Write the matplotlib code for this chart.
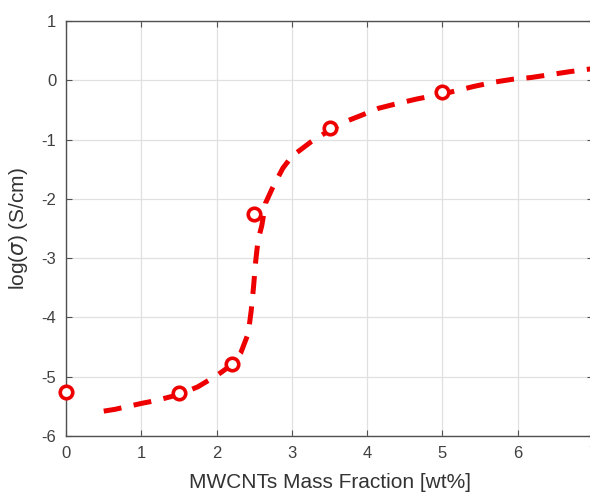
import numpy as np
import matplotlib.pyplot as plt

plt.rcParams['font.family'] = ['Liberation Sans', 'DejaVu Sans']
plt.rcParams['axes.unicode_minus'] = False

# measured points
mass_frac = [0.0, 1.5, 2.2, 2.5, 3.5, 5.0]
log_sigma = [-5.25, -5.27, -4.78, -2.25, -0.8, -0.2]

# fitted curve
fit_x = [0.5, 0.65, 1.0, 1.2, 1.5, 1.75, 2.0, 2.2, 2.32, 2.42, 2.46, 2.49, 2.52,
         2.55, 2.6, 2.65, 2.74, 2.88, 3.0, 3.25, 3.5, 3.7, 3.92, 4.15, 4.4, 4.67,
         5.0, 5.42, 5.68, 5.93, 6.18, 6.44, 6.7, 7.0]
fit_y = [-5.58, -5.55, -5.45, -5.4, -5.3, -5.17, -4.98, -4.8, -4.6, -4.27, -3.88,
         -3.49, -3.04, -2.7, -2.45, -2.07, -1.82, -1.48, -1.28, -1.04, -0.84, -0.7,
         -0.59, -0.47, -0.39, -0.31, -0.23, -0.1, -0.03, 0.02, 0.05, 0.1, 0.15, 0.2]

xticks = [0, 1, 2, 3, 4, 5, 6, 7]
yticks = [-6, -5, -4, -3, -2, -1, 0, 1]

fig = plt.figure(figsize=(5.9, 4.93), dpi=100)
ax = fig.add_axes([0.112, 0.1156, 0.893, 0.8414])

ax.plot(fit_x, fit_y, color='#ee0000', lw=3.6, ls=(0, (3.6, 2.5)), zorder=3)
ax.plot(mass_frac, log_sigma, ls='none', marker='o', ms=9, mfc='white',
        mec='#ee0000', mew=2.6, zorder=4, clip_on=False)

ax.set_xlim(0, 7)
ax.set_ylim(-6, 1)
ax.set_xticks(xticks)
ax.set_yticks(yticks)
ax.grid(True, color='#e0e0e0', lw=0.9)
ax.set_axisbelow(True)
ax.tick_params(direction='in', top=True, right=True, length=4,
               labelsize=12, colors='#505050', labelcolor='#404040', pad=7)
for s in ax.spines.values():
    s.set_color('#505050')
    s.set_linewidth(1.0)

ax.set_xlabel('MWCNTs Mass Fraction [wt%]', fontsize=15, color='#333333', labelpad=9)
ax.set_ylabel(r'log($\sigma$) (S/cm)', fontsize=15, color='#333333', labelpad=8)

fig.savefig('out.png', dpi=100)
